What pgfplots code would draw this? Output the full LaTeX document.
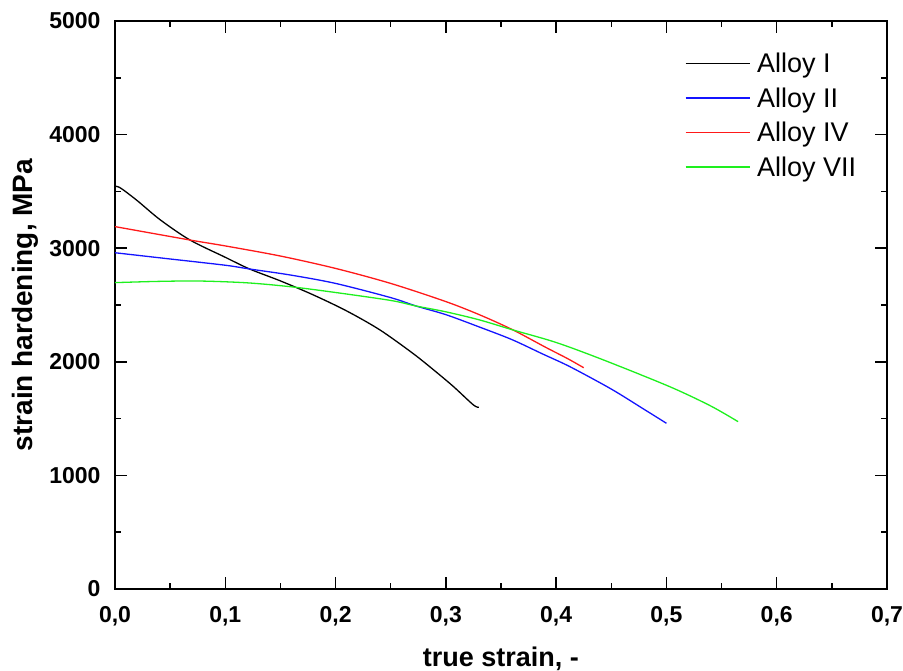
\documentclass[border=0pt]{standalone}
\usepackage{fontspec}
\setmainfont{Liberation Sans}
\usepackage{pgfplots}
\pgfplotsset{compat=1.18}
\definecolor{alloyblue}{RGB}{20,20,255}
\definecolor{alloyred}{RGB}{255,25,25}
\definecolor{alloygreen}{RGB}{30,240,30}

\begin{document}
\begin{tikzpicture}
\useasboundingbox (-115pt,-82pt) rectangle (788pt,589pt);
\begin{axis}[
  scale only axis,
  width=772pt, height=568pt,
  xmin=0, xmax=0.7, ymin=0, ymax=5000,
  xtick={0,0.1,...,0.7},
  ytick={0,1000,...,5000},
  minor x tick num=1, minor y tick num=1,
  tick align=inside,
  major tick length=12pt, minor tick length=6pt,
  every tick/.style={black, line width=1.5pt},
  axis line style={line width=1.8pt},
  xticklabel style={/pgf/number format/fixed, /pgf/number format/fixed zerofill,
    /pgf/number format/precision=1, /pgf/number format/use comma, yshift=-14pt},
  yticklabel style={/pgf/number format/1000 sep={}, xshift=-11pt},
  /pgf/number format/assume math mode=true,
  ticklabel style={font=\fontsize{23}{23}\selectfont\bfseries},
  xlabel={true strain, -},
  ylabel={strain hardening, MPa},
  every axis x label/.style={at={(axis description cs:0.5,0)}, anchor=center,
    yshift=-70pt, font=\bfseries\fontsize{27}{27}\selectfont},
  every axis y label/.style={at={(axis description cs:0,0.5)}, anchor=center,
    xshift=-90pt, rotate=90, font=\bfseries\fontsize{28}{28}\selectfont},
  legend style={at={(0.738,0.946)}, anchor=north west, draw=none, fill=none,
    font=\fontsize{27}{27}\selectfont, row sep=11.5pt, column sep=6pt, inner sep=0pt,
    nodes={inner sep=1pt}},
  legend cell align=left,
  legend image code/.code={\draw[#1] (0pt,0pt) -- (64pt,0pt);},
  every axis plot/.append style={line width=1.3pt},
]
\addplot[black, smooth, tension=0.5] coordinates {
  (0,3545) (0.005,3530) (0.02,3420) (0.041,3250) (0.068,3072) (0.1,2920)
  (0.122,2817) (0.15,2712) (0.18,2588) (0.21,2448) (0.24,2282) (0.27,2075)
  (0.29,1920) (0.307,1781) (0.325,1620) (0.33,1600)
};
\addlegendentry{Alloy I}
\addplot[alloyblue, smooth, tension=0.5] coordinates {
  (0,2960) (0.05,2905) (0.1,2850) (0.122,2817) (0.159,2764) (0.2,2690)
  (0.25,2565) (0.273,2491) (0.3,2415) (0.331,2304) (0.36,2195) (0.3875,2070)
  (0.4125,1957) (0.45,1760) (0.48,1580) (0.5,1459)
};
\addlegendentry{Alloy II}
\addplot[alloyred, smooth, tension=0.5] coordinates {
  (0,3190) (0.068,3072) (0.1,3020) (0.15,2931) (0.2,2822) (0.25,2690)
  (0.3,2530) (0.331,2412) (0.361,2280) (0.39,2130) (0.41,2030) (0.425,1948)
};
\addlegendentry{Alloy IV}
\addplot[alloygreen, smooth, tension=0.5] coordinates {
  (0,2697) (0.04,2708) (0.077,2711) (0.12,2695) (0.159,2661) (0.2,2610)
  (0.25,2540) (0.273,2491) (0.3,2440) (0.33,2370) (0.361,2280) (0.4,2170)
  (0.443,2016) (0.503,1781) (0.54,1612) (0.565,1473)
};
\addlegendentry{Alloy VII}
\end{axis}
\end{tikzpicture}
\end{document}
